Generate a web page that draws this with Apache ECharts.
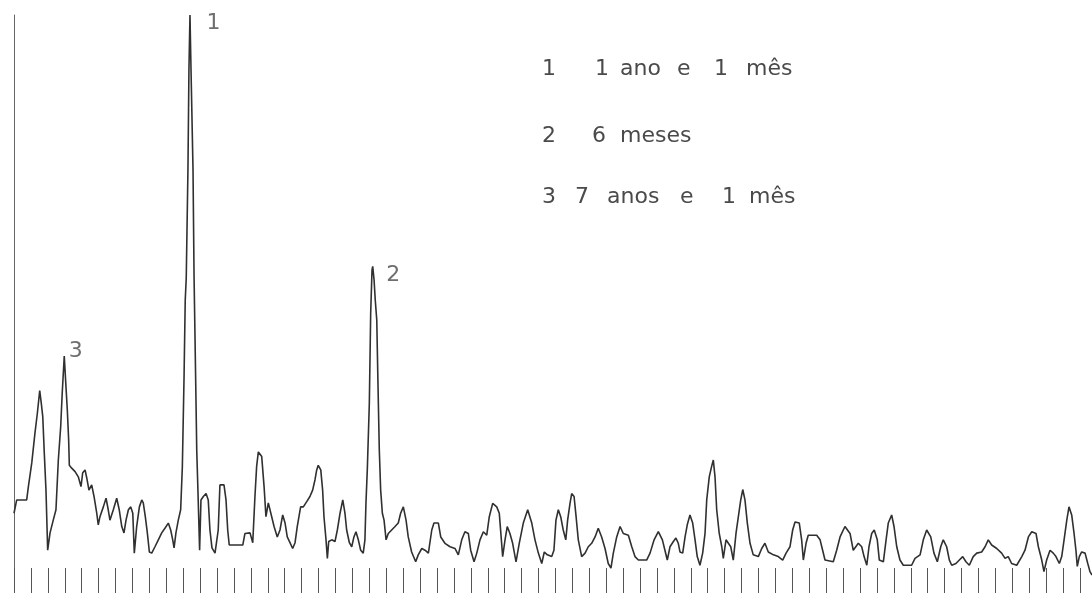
<!DOCTYPE html>
<html>
<head>
<meta charset="utf-8">
<script src="https://cdn.jsdelivr.net/npm/echarts@6/dist/echarts.min.js"></script>
<style>
  html, body { margin: 0; padding: 0; background: #fff; }
  #chart { width: 1092px; height: 593px; }
</style>
</head>
<body>
<div id="chart"></div>
<script>
// Periodogram: frequency index (one tick per unit) and relative power (0-100)
const freq = [
  0, 0.16, 0.75, 0.85, 1.05, 1.24, 1.38, 1.52, 1.61, 1.70,
  1.79, 1.89, 1.99, 2.13, 2.32, 2.48, 2.62, 2.76, 2.85, 2.97,
  3.06, 3.15, 3.23, 3.27, 3.41, 3.61, 3.80, 3.96, 4.06, 4.20,
  4.30, 4.43, 4.59, 4.73, 4.89, 4.98, 5.08, 5.28, 5.44, 5.57,
  5.67, 5.87, 6.07, 6.22, 6.37, 6.50, 6.62, 6.76, 6.90, 7.02,
  7.11, 7.25, 7.41, 7.55, 7.64, 7.76, 7.88, 8.00, 8.14, 8.33,
  8.53, 8.73, 8.92, 9.12, 9.26, 9.38, 9.46, 9.57, 9.71, 9.85,
  9.95, 10.05, 10.12, 10.18, 10.28, 10.34, 10.40, 10.46, 10.58, 10.64,
  10.74, 10.80, 10.87, 10.97, 11.05, 11.19, 11.35, 11.48, 11.58, 11.70,
  11.88, 12.07, 12.17, 12.41, 12.53, 12.63, 12.72, 13.52, 13.65, 13.95,
  14.11, 14.24, 14.34, 14.44, 14.64, 14.78, 14.89, 15.03, 15.13, 15.23,
  15.37, 15.56, 15.72, 15.88, 16.02, 16.15, 16.31, 16.47, 16.61, 16.74,
  16.94, 17.10, 17.30, 17.49, 17.65, 17.79, 17.89, 17.98, 18.13, 18.24,
  18.32, 18.44, 18.52, 18.60, 18.78, 18.97, 19.11, 19.27, 19.43, 19.56,
  19.66, 19.82, 19.96, 20.09, 20.21, 20.35, 20.49, 20.64, 20.74, 20.80,
  20.88, 21.00, 21.08, 21.16, 21.20, 21.28, 21.35, 21.44, 21.51, 21.59,
  21.67, 21.77, 21.87, 21.99, 22.12, 22.32, 22.52, 22.71, 22.85, 23.01,
  23.17, 23.30, 23.50, 23.74, 23.89, 24.10, 24.29, 24.49, 24.69, 24.82,
  25.08, 25.22, 25.47, 25.77, 26.06, 26.26, 26.46, 26.65, 26.85, 26.99,
  27.19, 27.35, 27.54, 27.74, 27.94, 28.09, 28.29, 28.53, 28.68, 28.72,
  28.88, 29.02, 29.15, 29.31, 29.47, 29.67, 29.86, 30.10, 30.36, 30.60,
  30.79, 30.99, 31.19, 31.34, 31.52, 31.78, 31.91, 32.03, 32.17, 32.31,
  32.46, 32.61, 32.72, 32.86, 32.96, 33.10, 33.22, 33.35, 33.55, 33.75,
  33.94, 34.14, 34.34, 34.53, 34.73, 34.93, 35.12, 35.28, 35.42, 35.62,
  35.82, 36.01, 36.31, 36.51, 36.70, 36.90, 37.39, 37.59, 37.83, 38.08,
  38.32, 38.47, 38.61, 38.77, 38.97, 39.12, 39.26, 39.36, 39.52, 39.66,
  39.79, 39.95, 40.11, 40.25, 40.38, 40.54, 40.70, 40.84, 40.94, 41.09,
  41.23, 41.33, 41.43, 41.53, 41.68, 41.83, 41.92, 42.08, 42.22, 42.36,
  42.51, 42.67, 42.81, 42.95, 43.07, 43.20, 43.34, 43.50, 43.69, 43.99,
  44.19, 44.38, 44.58, 44.88, 45.17, 45.43, 45.63, 45.86,
  46.02, 46.16, 46.41, 46.55, 46.65, 46.81, 46.94, 47.44, 47.64, 47.79,
  47.93, 48.42, 48.62, 48.82, 49.11, 49.41, 49.60, 49.75, 49.90, 50.10,
  50.24, 50.40, 50.53, 50.69, 50.84, 51.02, 51.14, 51.38, 51.54, 51.67,
  51.87, 52.01, 52.17, 52.36, 52.56, 53.05, 53.25, 53.55, 53.74, 53.94,
  54.18, 54.37, 54.57, 54.77, 54.92, 55.12, 55.28, 55.42, 55.67, 55.87,
  56.07, 56.26, 56.46, 56.69, 56.90, 57.19, 57.39, 57.58, 57.78, 58.08,
  58.37, 58.57, 58.76, 58.96, 59.26, 59.56, 59.75, 59.95, 60.15, 60.40,
  60.54, 60.74, 60.87, 61.03, 61.23, 61.42, 61.58, 61.78, 61.92, 62.06,
  62.22, 62.35, 62.51, 62.65, 62.76, 62.84, 62.96, 63.10, 63.30, 63.46,
  63.59, 63.71
];

const power = [
  13.8, 16.1, 16.1, 18.4, 22.5, 27.7, 31.1, 35.0, 32.9, 30.5,
  24.2, 17.8, 7.4, 10.4, 12.6, 14.4, 23.0, 28.8, 34.6, 41.0,
  36.3, 31.7, 26.5, 22.1, 21.6, 21.0, 20.1, 18.4, 20.8, 21.3,
  19.9, 17.8, 18.7, 16.7, 13.8, 11.8, 13.2, 14.9, 16.4, 14.4,
  12.6, 14.4, 16.4, 14.4, 11.5, 10.4, 12.6, 14.4, 14.9, 13.8,
  6.9, 11.5, 14.9, 16.1, 15.6, 13.2, 10.4, 7.1, 6.9, 8.0,
  9.2, 10.4, 11.2, 12.1, 10.9, 9.2, 7.8, 10.4, 12.6, 14.4,
  21.9, 37.4, 50.7, 54.5, 73.2, 90.8, 100.0, 90.8, 73.2, 55.0,
  36.3, 24.7, 17.8, 7.4, 16.1, 16.7, 17.2, 16.1, 10.9, 7.8,
  6.9, 10.9, 18.7, 18.7, 16.1, 10.9, 8.3, 8.3, 10.3, 10.4,
  8.7, 16.7, 21.9, 24.4, 23.6, 18.4, 13.2, 15.6, 15.8, 13.2,
  11.5, 9.7, 10.9, 13.5, 12.1, 9.7, 8.7, 7.7, 8.7, 11.5,
  14.9, 14.9, 15.8, 16.7, 17.8, 19.6, 21.3, 22.1, 21.3, 17.8,
  13.2, 9.2, 6.0, 8.9, 9.2, 8.9, 10.9, 13.8, 16.1, 13.8,
  10.9, 8.7, 8.0, 9.7, 10.6, 9.2, 7.4, 6.9, 9.2, 15.5,
  21.3, 32.8, 48.4, 55.9, 56.5, 54.2, 50.7, 47.2, 36.3, 24.7,
  17.8, 13.8, 12.6, 9.2, 10.3, 10.9, 11.5, 12.1, 13.8, 14.9,
  12.6, 9.7, 7.1, 5.4, 6.6, 7.7, 7.4, 6.9, 10.9, 12.1,
  12.1, 9.7, 8.6, 8.0, 7.7, 6.6, 9.2, 10.6, 10.3, 7.4,
  5.4, 6.9, 9.2, 10.6, 10.0, 13.2, 15.5, 14.9, 13.8, 12.3,
  6.3, 9.2, 11.5, 10.3, 8.6, 5.4, 8.6, 12.1, 14.4, 12.1,
  9.2, 6.9, 5.1, 7.1, 6.6, 6.3, 7.4, 12.6, 14.4, 13.2,
  10.9, 9.2, 12.6, 15.5, 17.2, 16.7, 13.2, 9.2, 6.3, 6.9,
  8.0, 8.6, 9.7, 11.2, 9.7, 7.7, 5.1, 4.3, 6.9, 9.7,
  11.5, 10.3, 10.0, 8.0, 6.3, 5.7, 5.7, 6.9, 9.2, 10.6,
  9.2, 7.4, 5.7, 8.0, 8.9, 9.5, 8.6, 7.1, 6.9, 9.7,
  11.8, 13.5, 12.1, 9.2, 6.3, 4.8, 6.9, 10.3, 16.1, 20.1,
  21.9, 23.0, 20.1, 14.4, 10.3, 8.0, 6.0, 9.2, 8.6, 8.0,
  5.7, 10.3, 13.2, 16.1, 17.9, 16.1, 12.1, 8.6, 6.6, 6.3,
  7.7, 8.6, 7.1, 6.6, 6.3, 5.7, 6.9, 8.0,
  10.9, 12.3, 12.1, 9.2, 5.7, 8.6, 10.0, 10.0, 9.2, 7.4,
  5.7, 5.4, 7.4, 9.7, 11.5, 10.3, 7.4, 8.0, 8.6, 8.0,
  6.3, 4.8, 8.0, 10.3, 10.9, 9.2, 5.7, 5.4, 9.2, 12.1,
  13.5, 11.5, 8.0, 5.7, 4.8, 4.8, 6.0, 6.6, 9.2, 10.9,
  9.7, 6.9, 5.4, 8.0, 9.2, 8.0, 5.7, 4.8, 5.1, 5.7,
  6.3, 5.4, 4.8, 6.3, 6.9, 7.1, 8.0, 9.2, 8.3, 7.7,
  6.9, 6.0, 6.3, 5.1, 4.8, 6.3, 7.4, 9.7, 10.6, 10.3,
  8.0, 5.7, 3.7, 5.7, 7.4, 6.9, 6.3, 5.1, 6.3, 9.2,
  12.6, 14.9, 13.5, 10.3, 7.4, 4.6, 6.3, 7.1, 6.9, 5.1,
  3.7, 3.1
];

// Marked peaks: label and frequency of each peak
const peakNames = ['1', '2', '3'];
const peakFreqs = [10.40, 21.20, 2.97];

// Key describing the marked peaks
const keyNumbers = ['1', '2', '3'];
const keyTexts = ['1 ano e 1 mês', '6 meses', '7 anos e 1 mês'];

const FREQ_MAX = 63.71;
const textColor = '#4a4a4a';
const fontFamily = '"DejaVu Sans", "Liberation Sans", sans-serif';

const series = freq.map((f, i) => [f, power[i]]);
const peakOffsets = { '1': [16, 8], '2': [13, 9], '3': [4, -5] };
const peaks = peakNames.map((name, i) => {
  const idx = freq.indexOf(peakFreqs[i]);
  return {
    value: [freq[idx], power[idx]],
    label: {
      show: true,
      formatter: name,
      position: 'right',
      distance: 0,
      offset: peakOffsets[name]
    }
  };
});

// Key layout: number column plus word positions for each line
const keyLayout = [
  { y: 71, words: [['1', 595], ['ano', 620], ['e', 677], ['1', 714], ['mês', 746]] },
  { y: 138, words: [['6', 592], ['meses', 620]] },
  { y: 199, words: [['7', 575], ['anos', 607], ['e', 680], ['1', 722], ['mês', 749]] }
];
const graphics = [];
keyLayout.forEach((row, r) => {
  graphics.push({
    type: 'text', left: 542, top: row.y - 13,
    style: { text: keyNumbers[r], font: '22px ' + fontFamily, fill: textColor }
  });
  const parts = keyTexts[r].split(' ');
  parts.forEach((w, k) => {
    graphics.push({
      type: 'text', left: row.words[k][1], top: row.y - 13,
      style: { text: w, font: '22px ' + fontFamily, fill: textColor }
    });
  });
});

const chart = echarts.init(document.getElementById('chart'), null, { renderer: 'canvas' });
chart.setOption({
  animation: false,
  backgroundColor: '#ffffff',
  grid: { left: 14, right: 0, top: 15, bottom: 0, containLabel: false },
  xAxis: {
    type: 'value',
    min: 0,
    max: FREQ_MAX,
    interval: 1,
    axisLine: { show: false },
    axisLabel: { show: false },
    splitLine: { show: false },
    axisTick: { show: true, inside: true, length: 25, lineStyle: { color: '#555', width: 1 } }
  },
  yAxis: {
    type: 'value',
    min: 0,
    max: 100,
    axisLine: { show: true, lineStyle: { color: '#666', width: 1 } },
    axisTick: { show: false },
    axisLabel: { show: false },
    splitLine: { show: false }
  },
  graphic: graphics,
  series: [
    {
      type: 'line',
      data: series,
      showSymbol: false,
      symbol: 'none',
      lineStyle: { color: '#303030', width: 1.6 },
      z: 2
    },
    {
      type: 'scatter',
      data: peaks,
      symbolSize: 1,
      itemStyle: { color: 'rgba(0,0,0,0)' },
      label: { color: textColor, fontSize: 22, fontFamily: fontFamily },
      z: 3
    }
  ]
});
</script>
</body>
</html>
